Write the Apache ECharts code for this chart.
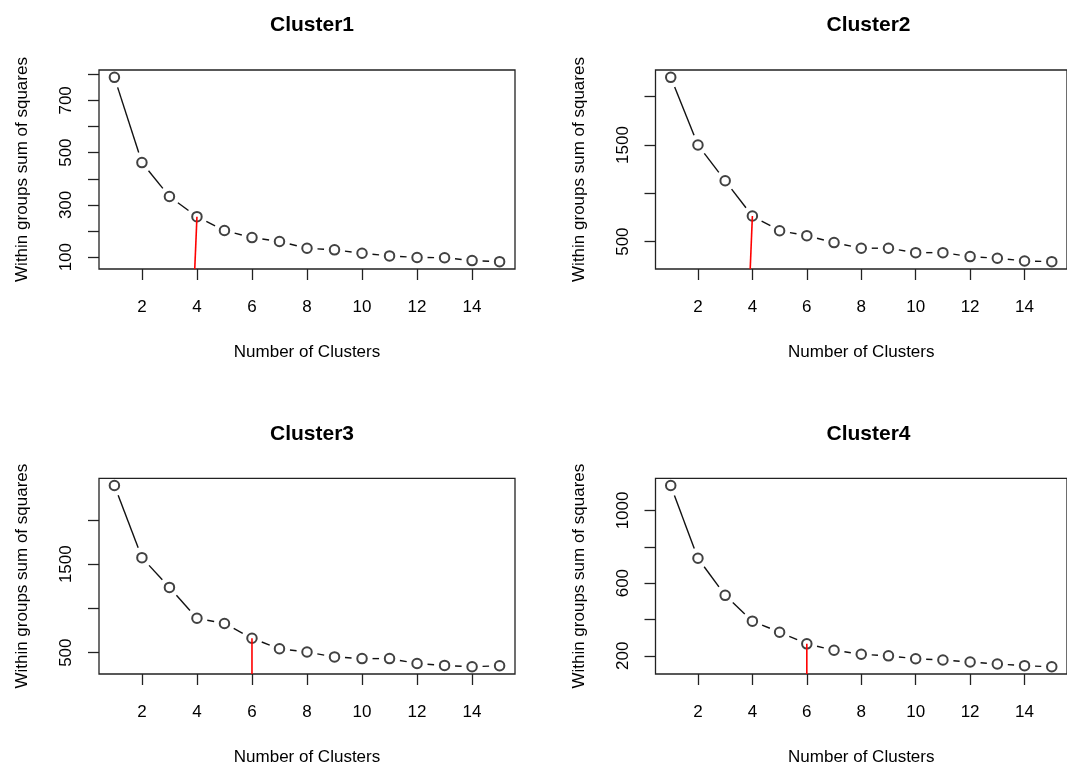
<!DOCTYPE html>
<html>
<head>
<meta charset="utf-8">
<title>Elbow plots</title>
<script src="https://cdn.jsdelivr.net/npm/echarts@6/dist/echarts.min.js"></script>
<style>
  html, body { margin: 0; padding: 0; background: #fff; }
  #chart { width: 1067px; height: 767px; }
</style>
</head>
<body>
<div id="chart"></div>
<script>
// number of clusters k
const clusters = [1, 2, 3, 4, 5, 6, 7, 8, 9, 10, 11, 12, 13, 14, 15]
// within groups sum of squares, one array per panel
const wss1 = [788, 462, 332, 255, 202, 175, 160, 134, 128, 115, 105, 99, 98, 87, 83]
const wss2 = [2200, 1500, 1130, 765, 613, 562, 490, 432, 432, 386, 386, 345, 328, 300, 293]
const wss3 = [2389, 1574, 1238, 889, 830, 663, 544, 508, 452, 433, 433, 378, 356, 341, 352]
const wss4 = [1137, 737, 533, 391, 330, 266, 231, 209, 200, 184, 177, 166, 155, 146, 140]

const titles = ['Cluster1', 'Cluster2', 'Cluster3', 'Cluster4']
const xTicks = [2, 4, 6, 8, 10, 12, 14]
const yTicks1 = [100, 200, 300, 400, 500, 600, 700, 800]
const yLabels1 = [100, 300, 500, 700]
const yTicks2 = [500, 1000, 1500, 2000]
const yLabels2 = [500, 1500]
const yTicks3 = [500, 1000, 1500, 2000]
const yLabels3 = [500, 1500]
const yTicks4 = [200, 400, 600, 800, 1000]
const yLabels4 = [200, 600, 1000]
// chosen k (red line) and where the red line meets the x axis
const elbowK = [4, 4, 6, 6]
const elbowFoot = [3.92, 3.92, 6, 6]

const panels = [
  { wss: wss1, yTicks: yTicks1, yLabels: yLabels1 },
  { wss: wss2, yTicks: yTicks2, yLabels: yLabels2 },
  { wss: wss3, yTicks: yTicks3, yLabels: yLabels3 },
  { wss: wss4, yTicks: yTicks4, yLabels: yLabels4 }
]

const font = '"Liberation Sans", Arial, Helvetica, sans-serif'
const boxes = [
  { left: 99, top: 70 },
  { left: 655.5, top: 70 },
  { left: 99, top: 478.3 },
  { left: 655.5, top: 478.3 }
]
const boxW = 416
const boxH = 199

// R style range: data extent padded by 4%
function padRange(arr) {
  const lo = Math.min.apply(null, arr)
  const hi = Math.max.apply(null, arr)
  const d = (hi - lo) * 0.04
  return [lo - d, hi + d]
}

const option = {
  animation: false,
  textStyle: { fontFamily: font, color: '#000' },
  title: [],
  grid: [],
  xAxis: [],
  yAxis: [],
  series: []
}

const xr = padRange(clusters)

panels.forEach((p, i) => {
  const yr = padRange(p.wss)
  const b = boxes[i]
  option.title.push({
    text: titles[i],
    left: b.left + boxW / 2,
    top: b.top - 60,
    textAlign: 'center',
    textStyle: { fontSize: 21, fontWeight: 'bold', color: '#000', fontFamily: font }
  })
  option.grid.push({
    left: b.left,
    top: b.top,
    width: boxW,
    height: boxH,
    show: true,
    borderColor: '#222',
    borderWidth: 1.3,
    backgroundColor: 'transparent'
  })
  option.xAxis.push({
    type: 'value',
    gridIndex: i,
    min: xr[0],
    max: xr[1],
    name: 'Number of Clusters',
    nameLocation: 'middle',
    nameGap: 75,
    nameTextStyle: { fontSize: 17, color: '#000', fontFamily: font },
    axisLine: { show: false },
    splitLine: { show: false },
    axisTick: {
      show: true,
      customValues: xTicks,
      length: 11,
      lineStyle: { color: '#222', width: 1.3 }
    },
    axisLabel: {
      customValues: xTicks,
      fontSize: 17,
      color: '#000',
      margin: 30,
      formatter: (v) => String(v)
    }
  })
  option.yAxis.push({
    type: 'value',
    gridIndex: i,
    min: yr[0],
    max: yr[1],
    name: 'Within groups sum of squares',
    nameLocation: 'middle',
    nameGap: 68,
    nameTextStyle: { fontSize: 17, color: '#000', fontFamily: font },
    axisLine: { show: false },
    splitLine: { show: false },
    axisTick: {
      show: true,
      customValues: p.yTicks,
      length: 11,
      lineStyle: { color: '#222', width: 1.3 }
    },
    axisLabel: {
      customValues: p.yLabels,
      rotate: 90,
      fontSize: 17,
      color: '#000',
      margin: 24,
      formatter: (v) => String(Math.round(v))
    }
  })

  // line segments between points, cut short near each circle (R type = "b")
  const segs = []
  for (let j = 0; j < clusters.length - 1; j++) {
    segs.push([clusters[j], p.wss[j], clusters[j + 1], p.wss[j + 1]])
  }
  option.series.push({
    type: 'custom',
    xAxisIndex: i,
    yAxisIndex: i,
    silent: true,
    data: segs,
    encode: { x: [0, 2], y: [1, 3] },
    renderItem: (params, api) => {
      const a = api.coord([api.value(0), api.value(1)])
      const c = api.coord([api.value(2), api.value(3)])
      const dx = c[0] - a[0]
      const dy = c[1] - a[1]
      const len = Math.sqrt(dx * dx + dy * dy)
      const gap = 10.5
      if (len <= gap * 2) return null
      const ux = dx / len
      const uy = dy / len
      return {
        type: 'line',
        shape: {
          x1: a[0] + ux * gap,
          y1: a[1] + uy * gap,
          x2: c[0] - ux * gap,
          y2: c[1] - uy * gap
        },
        style: { stroke: '#111', lineWidth: 1.4 }
      }
    }
  })

  // red line at the chosen k
  const k = elbowK[i]
  option.series.push({
    type: 'line',
    xAxisIndex: i,
    yAxisIndex: i,
    silent: true,
    symbol: 'none',
    lineStyle: { color: '#f00', width: 1.6 },
    data: [[elbowFoot[i], yr[0]], [k, p.wss[clusters.indexOf(k)]]]
  })

  option.series.push({
    type: 'scatter',
    xAxisIndex: i,
    yAxisIndex: i,
    silent: true,
    symbol: 'emptyCircle',
    symbolSize: 9.5,
    itemStyle: { color: '#111', borderColor: '#111', borderWidth: 1.3 },
    data: clusters.map((c, j) => [c, p.wss[j]])
  })
})

const myChart = echarts.init(document.getElementById('chart'), null, { renderer: 'canvas' })
myChart.setOption(option)
window.onresize = myChart.resize
</script>
</body>
</html>
